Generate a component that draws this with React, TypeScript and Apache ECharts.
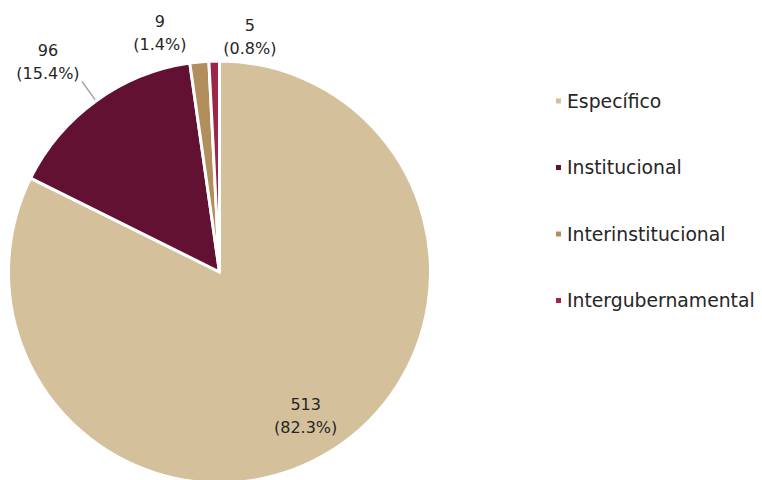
import React, { useEffect, useRef } from "react";
import * as echarts from "echarts";

const categories = ["Específico", "Institucional", "Interinstitucional", "Intergubernamental"];
const values = [513, 96, 9, 5];
const colors = ["#D4C19C", "#621132", "#B38E5D", "#9D2449"];
// label nudges (dx, dy) relative to ECharts default placement
const labelShift = [
  [29, 52],
  [-29, -19],
  [-18, -14],
  [56, -9],
];

export default function App() {
  const ref = useRef<HTMLDivElement>(null);
  useEffect(() => {
    if (!ref.current) return;
    const chart = echarts.init(ref.current, null, { renderer: "svg" });
    const font = "DejaVu Sans";
    chart.setOption({
      animation: false,
      color: colors,
      legend: {
        orient: "vertical",
        left: 549,
        top: 85,
        itemWidth: 7,
        itemHeight: 7,
        itemGap: 44.5,
        icon: "rect",
        textStyle: { fontFamily: font, fontSize: 18.8, color: "#262626", lineHeight: 22 },
        data: categories,
      },
      series: [
        {
          type: "pie",
          center: [219.5, 272],
          radius: [0, 211],
          startAngle: 90,
          clockwise: true,
          avoidLabelOverlap: false,
          itemStyle: { borderColor: "#ffffff", borderWidth: 3 },
          label: {
            show: true,
            position: "outside",
            fontFamily: font,
            fontSize: 16,
            lineHeight: 23,
            color: "#262626",
            formatter: (p: any) => `${p.value}\n(${p.percent.toFixed(1)}%)`,
          },
          labelLine: { show: false, length: 15, length2: 15 },
          labelLayout: (p: any) => ({
            dx: labelShift[p.dataIndex][0],
            dy: labelShift[p.dataIndex][1],
            align: "center",
            verticalAlign: "middle",
          }),
          data: categories.map((name, i) => {
            const d: any = { name, value: values[i] };
            if (i === 0) d.label = { position: "inside" };
            if (i === 1) d.labelLine = { show: true, length: 24, length2: 0, lineStyle: { color: "#A6A6A6", width: 1.5 } };
            return d;
          }),
        },
      ],
    });
    return () => chart.dispose();
  }, []);
  return <div ref={ref} style={{ width: 762, height: 480, position: "absolute", left: 0, top: 0 }} />;
}
